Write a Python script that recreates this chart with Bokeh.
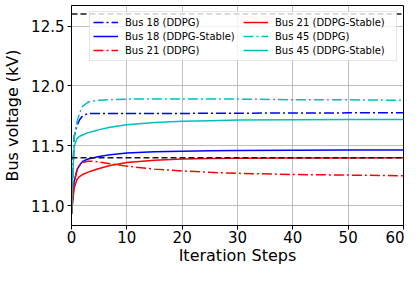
from bokeh.plotting import figure
from bokeh.models import Span, Legend, LegendItem, FixedTicker, Range1d
from bokeh.embed import file_html
from bokeh.resources import INLINE

# Iteration steps at which values were read
steps = [0, 0.25, 0.5, 1, 1.5, 2, 3, 4, 5, 7, 10, 15, 20, 25, 30, 40, 50, 60]

bus18_ddpg   = [10.93, 11.30, 11.58, 11.67, 11.72, 11.75, 11.77, 11.77, 11.77, 11.77, 11.77, 11.77, 11.77, 11.772, 11.772, 11.774, 11.775, 11.775]
bus18_stable = [10.93, 11.08, 11.20, 11.30, 11.34, 11.37, 11.39, 11.40, 11.41, 11.425, 11.44, 11.45, 11.455, 11.458, 11.46, 11.462, 11.464, 11.465]
bus21_ddpg   = [10.93, 11.08, 11.20, 11.30, 11.34, 11.36, 11.37, 11.37, 11.365, 11.35, 11.33, 11.305, 11.29, 11.278, 11.27, 11.26, 11.255, 11.25]
bus21_stable = [10.93, 11.05, 11.15, 11.22, 11.245, 11.26, 11.28, 11.295, 11.31, 11.335, 11.36, 11.38, 11.39, 11.393, 11.395, 11.397, 11.398, 11.40]
bus45_ddpg   = [10.93, 11.30, 11.58, 11.70, 11.78, 11.83, 11.865, 11.875, 11.88, 11.885, 11.89, 11.89, 11.89, 11.89, 11.89, 11.885, 11.884, 11.88]
bus45_stable = [10.93, 11.28, 11.50, 11.56, 11.58, 11.59, 11.61, 11.622, 11.635, 11.655, 11.675, 11.695, 11.705, 11.71, 11.715, 11.718, 11.72, 11.72]

voltage_limits = [11.4, 12.6]

x_ticks = [0, 10, 20, 30, 40, 50, 60]
y_ticks = [11.0, 11.5, 12.0, 12.5]

series = [
    ("Bus 18 (DDPG)", bus18_ddpg, "#0000ff", "10 3 2 3"),
    ("Bus 18 (DDPG-Stable)", bus18_stable, "#0000ff", "solid"),
    ("Bus 21 (DDPG)", bus21_ddpg, "#ff0000", "10 3 2 3"),
    ("Bus 21 (DDPG-Stable)", bus21_stable, "#ff0000", "solid"),
    ("Bus 45 (DDPG)", bus45_ddpg, "#00bfbf", "10 3 2 3"),
    ("Bus 45 (DDPG-Stable)", bus45_stable, "#00bfbf", "solid"),
]

p = figure(width=404, height=267, output_backend="svg", toolbar_location=None,
           x_range=Range1d(0, 60), y_range=Range1d(10.834, 12.672),
           min_border_left=70, min_border_right=1, min_border_top=5, min_border_bottom=0)

p.background_fill_color = "white"
p.border_fill_color = "white"
p.outline_line_color = "black"
p.outline_line_width = 1
p.outline_line_alpha = 1

p.xgrid.grid_line_color = "#b0b0b0"
p.ygrid.grid_line_color = "#b0b0b0"
p.xgrid.grid_line_width = 0.8
p.ygrid.grid_line_width = 0.8

p.xaxis.ticker = FixedTicker(ticks=x_ticks)
p.yaxis.ticker = FixedTicker(ticks=y_ticks)
p.yaxis.major_label_overrides = {v: f"{v:.1f}" for v in y_ticks}

for ax in (p.xaxis[0], p.yaxis[0]):
    ax.major_label_text_font = "DejaVu Sans"
    ax.major_label_text_font_size = "15px"
    ax.major_label_text_color = "black"
    ax.axis_label_text_font = "DejaVu Sans"
    ax.axis_label_text_font_size = "16px"
    ax.axis_label_text_font_style = "normal"
    ax.axis_label_text_color = "black"
    ax.minor_tick_line_color = None
    ax.major_tick_out = 4
    ax.major_tick_in = 0
    ax.axis_line_color = "black"
    ax.major_tick_line_color = "black"
    ax.axis_label_standoff = 6
    ax.major_label_standoff = 3

p.xaxis.axis_label = "Iteration Steps"
p.yaxis.axis_label = "Bus voltage (kV)"
p.xaxis.axis_label_standoff = 0
p.xaxis.major_label_standoff = 1

items = []
for label, vals, color, dash in series:
    r = p.line(steps, vals, line_color=color, line_width=1.5, line_dash=dash)
    items.append(LegendItem(label=label, renderers=[r]))

for v in voltage_limits:
    p.add_layout(Span(location=v, dimension="width", line_color="#1a1a1a",
                      line_width=1.5, line_dash="6 3"))

legend = Legend(items=items, ncols=2, location="top_right")
legend.label_text_font = "DejaVu Sans"
legend.label_text_font_size = "10px"
legend.label_text_color = "black"
legend.glyph_width = 25
legend.glyph_height = 14
legend.label_height = 14
legend.label_width = 118
legend.label_standoff = 7
legend.spacing = 0
legend.padding = 3
legend.margin = 6
legend.border_line_color = "#cccccc"
legend.border_line_width = 1
legend.background_fill_alpha = 0.8
p.add_layout(legend, "center")

open("out.html", "w").write(file_html(p, INLINE))
